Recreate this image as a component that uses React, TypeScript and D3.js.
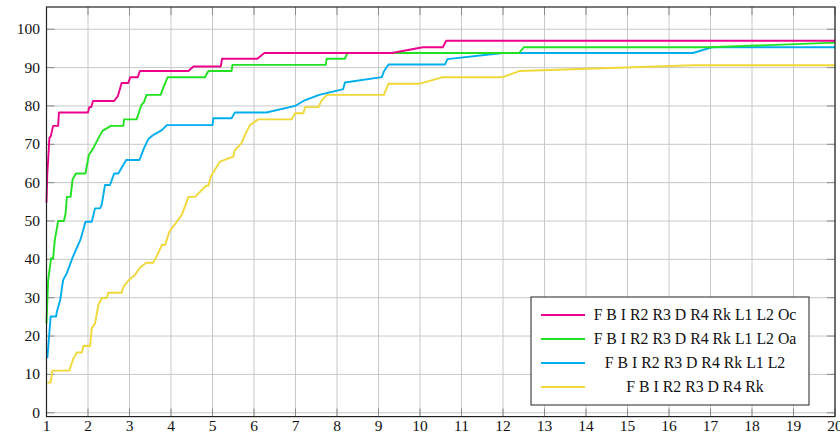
import React, { useEffect, useRef } from 'react'
import * as d3 from 'd3'

// series values, [x, y] pairs
const seriesOc: [number, number][] = [
  [1.0, 54.8], [1.02, 62.5], [1.04, 65.9], [1.07, 71.7], [1.1, 72], [1.16, 74.8], [1.28, 74.8],
  [1.3, 78.3], [2.0, 78.3], [2.03, 79.7], [2.08, 79.7], [2.12, 81.3], [2.63, 81.3], [2.72, 82.6],
  [2.81, 86], [2.97, 86], [3.02, 87.5], [3.2, 87.5], [3.25, 89.1], [4.42, 89.1], [4.54, 90.3],
  [5.2, 90.3], [5.23, 92.3], [6.08, 92.3], [6.25, 93.8], [9.32, 93.8], [10.07, 95.3], [10.55, 95.3],
  [10.63, 97.0], [20, 97.0]
]
const seriesOa: [number, number][] = [
  [1.0, 23.3], [1.04, 34.6], [1.11, 40.3], [1.16, 40.3], [1.2, 45], [1.28, 50], [1.42, 50],
  [1.46, 52], [1.49, 56.3], [1.58, 56.3], [1.63, 60.9], [1.71, 62.4], [1.94, 62.4], [2.02, 67.2],
  [2.13, 69], [2.2, 70.5], [2.27, 72], [2.35, 73.5], [2.55, 74.8], [2.85, 74.8], [2.87, 76.5],
  [3.17, 76.5], [3.22, 78.1], [3.29, 80.3], [3.35, 81], [3.41, 82.9], [3.75, 82.9], [3.8, 84.4],
  [3.92, 87.5], [4.82, 87.5], [4.9, 89.1], [5.46, 89.1], [5.48, 90.7], [7.73, 90.7], [7.75, 92.3],
  [8.19, 92.3], [8.25, 93.8], [12.39, 93.8], [12.5, 95.3], [17.0, 95.3], [20, 96.5]
]
const seriesL2: [number, number][] = [
  [1.02, 14.2], [1.1, 25.1], [1.23, 25.1], [1.26, 26.8], [1.33, 29.4], [1.4, 34.6], [1.49, 36.4],
  [1.63, 40.5], [1.82, 45.2], [1.94, 49.8], [2.09, 49.8], [2.17, 53.3], [2.29, 53.3], [2.33, 54.2],
  [2.41, 59.4], [2.53, 59.4], [2.63, 62.4], [2.73, 62.4], [2.92, 65.9], [3.24, 65.9], [3.35, 69],
  [3.45, 71.3], [3.57, 72.4], [3.78, 73.7], [3.9, 75], [5.0, 75], [5.02, 76.8], [5.46, 76.8],
  [5.54, 78.3], [6.3, 78.3], [6.99, 80], [7.19, 81.3], [7.57, 82.9], [8.15, 84.4], [8.19, 86.1],
  [9.08, 87.5], [9.13, 89], [9.24, 90.8], [10.6, 90.8], [10.66, 92.2], [12.0, 93.8], [16.58, 93.8],
  [17.03, 95.3], [20, 95.3]
]
const seriesRk: [number, number][] = [
  [1.02, 7.9], [1.1, 7.9], [1.14, 11], [1.55, 11], [1.61, 12.9], [1.65, 14.2], [1.73, 15.7],
  [1.85, 15.7], [1.89, 17.4], [2.05, 17.4], [2.09, 22], [2.17, 23.3], [2.25, 28.1], [2.33, 29.9],
  [2.45, 29.9], [2.49, 31.3], [2.81, 31.3], [2.85, 32.7], [2.97, 34.5], [3.13, 35.9], [3.24, 37.7],
  [3.4, 39.1], [3.57, 39.1], [3.66, 40.9], [3.78, 43.8], [3.86, 43.8], [3.96, 47.2], [4.14, 49.8],
  [4.26, 51.6], [4.42, 56.3], [4.58, 56.3], [4.84, 59.2], [4.9, 59.2], [4.96, 61.6], [5.18, 65.5],
  [5.5, 66.8], [5.54, 68.5], [5.7, 70.3], [5.78, 72.4], [5.9, 75], [6.1, 76.5], [6.91, 76.5],
  [6.99, 78.1], [7.19, 78.1], [7.23, 79.7], [7.55, 79.7], [7.64, 81.6], [7.76, 82.9], [9.13, 82.9],
  [9.24, 85.8], [10.0, 85.8], [10.55, 87.5], [11.99, 87.5], [12.39, 89.1], [16.6, 90.6], [20, 90.6]
]

const seriesNames = [
  'F B I R2 R3 D R4 Rk L1 L2 Oc',
  'F B I R2 R3 D R4 Rk L1 L2 Oa',
  'F B I R2 R3 D R4 Rk L1 L2',
  'F B I R2 R3 D R4 Rk'
]
const seriesColors = ['#ec008c', '#22e022', '#00aeef', '#f0d838']
const xTicks = d3.range(1, 21)
const yTicks = d3.range(0, 101, 10)

const W = 840
const H = 435
const FONT = 'Liberation Serif, DejaVu Serif, serif'

export default function App () {
  const ref = useRef<SVGSVGElement>(null)

  useEffect(() => {
    const svg = d3.select(ref.current)
    svg.selectAll('*').remove()

    const left = 46.5
    const right = 835
    const top = 7
    const bottom = 416.6

    const x = d3.scaleLinear().domain([1, 20]).range([left, right])
    const y = d3.scaleLinear().domain([-1, 105.8]).range([bottom, top])

    const g = svg.append('g')

    // grid
    g.selectAll('.vgrid').data(xTicks).enter().append('line')
      .attr('x1', d => x(d)).attr('x2', d => x(d))
      .attr('y1', top).attr('y2', bottom)
      .attr('stroke', '#c8c8c8').attr('stroke-width', 1)
    g.selectAll('.hgrid').data(yTicks).enter().append('line')
      .attr('x1', left).attr('x2', right)
      .attr('y1', d => y(d)).attr('y2', d => y(d))
      .attr('stroke', '#c8c8c8').attr('stroke-width', 1)

    // tick marks inside on all four sides
    const tl = 8
    xTicks.forEach(d => {
      g.append('line').attr('x1', x(d)).attr('x2', x(d)).attr('y1', bottom).attr('y2', bottom - tl)
        .attr('stroke', '#8a8a8a').attr('stroke-width', 1)
      g.append('line').attr('x1', x(d)).attr('x2', x(d)).attr('y1', top).attr('y2', top + tl)
        .attr('stroke', '#8a8a8a').attr('stroke-width', 1)
    })
    yTicks.forEach(d => {
      g.append('line').attr('x1', left).attr('x2', left + tl).attr('y1', y(d)).attr('y2', y(d))
        .attr('stroke', '#8a8a8a').attr('stroke-width', 1)
      g.append('line').attr('x1', right).attr('x2', right - tl).attr('y1', y(d)).attr('y2', y(d))
        .attr('stroke', '#8a8a8a').attr('stroke-width', 1)
    })

    // lines
    const line = d3.line<[number, number]>()
      .x(d => x(d[0]))
      .y(d => y(d[1]))
    const all = [seriesOc, seriesOa, seriesL2, seriesRk]
    // draw yellow first so pink ends on top
    for (let i = all.length - 1; i >= 0; i--) {
      g.append('path')
        .datum(all[i])
        .attr('d', line)
        .attr('fill', 'none')
        .attr('stroke', seriesColors[i])
        .attr('stroke-width', 1.9)
        .attr('stroke-linejoin', 'round')
    }

    // frame
    g.append('rect')
      .attr('x', left).attr('y', top)
      .attr('width', right - left).attr('height', bottom - top)
      .attr('fill', 'none').attr('stroke', '#222').attr('stroke-width', 1.2)

    // tick labels
    g.selectAll('.xl').data(xTicks).enter().append('text')
      .attr('x', d => x(d)).attr('y', 431)
      .attr('text-anchor', 'middle')
      .attr('font-family', FONT).attr('font-size', 15.5)
      .attr('fill', '#111')
      .text(d => d)
    g.selectAll('.yl').data(yTicks).enter().append('text')
      .attr('x', 40).attr('y', d => y(d) + 5)
      .attr('text-anchor', 'end')
      .attr('font-family', FONT).attr('font-size', 15.5)
      .attr('fill', '#111')
      .text(d => d)

    // legend
    const lg = g.append('g')
    lg.append('rect')
      .attr('x', 531).attr('y', 297)
      .attr('width', 278).attr('height', 108)
      .attr('fill', '#fff').attr('stroke', '#222').attr('stroke-width', 1)
    seriesNames.forEach((name, i) => {
      const ry = 315 + i * 24
      lg.append('line')
        .attr('x1', 541).attr('x2', 585).attr('y1', ry).attr('y2', ry)
        .attr('stroke', seriesColors[i]).attr('stroke-width', 2)
      lg.append('text')
        .attr('x', 695).attr('y', ry + 5)
        .attr('text-anchor', 'middle')
        .attr('font-family', FONT).attr('font-size', 15.8)
        .attr('fill', '#111')
        .text(name)
    })
  }, [])

  return (
    <div>
      <svg ref={ref} width={W} height={H} style={{ position: 'absolute', left: 0, top: 0, background: '#fff' }} />
    </div>
  )
}
